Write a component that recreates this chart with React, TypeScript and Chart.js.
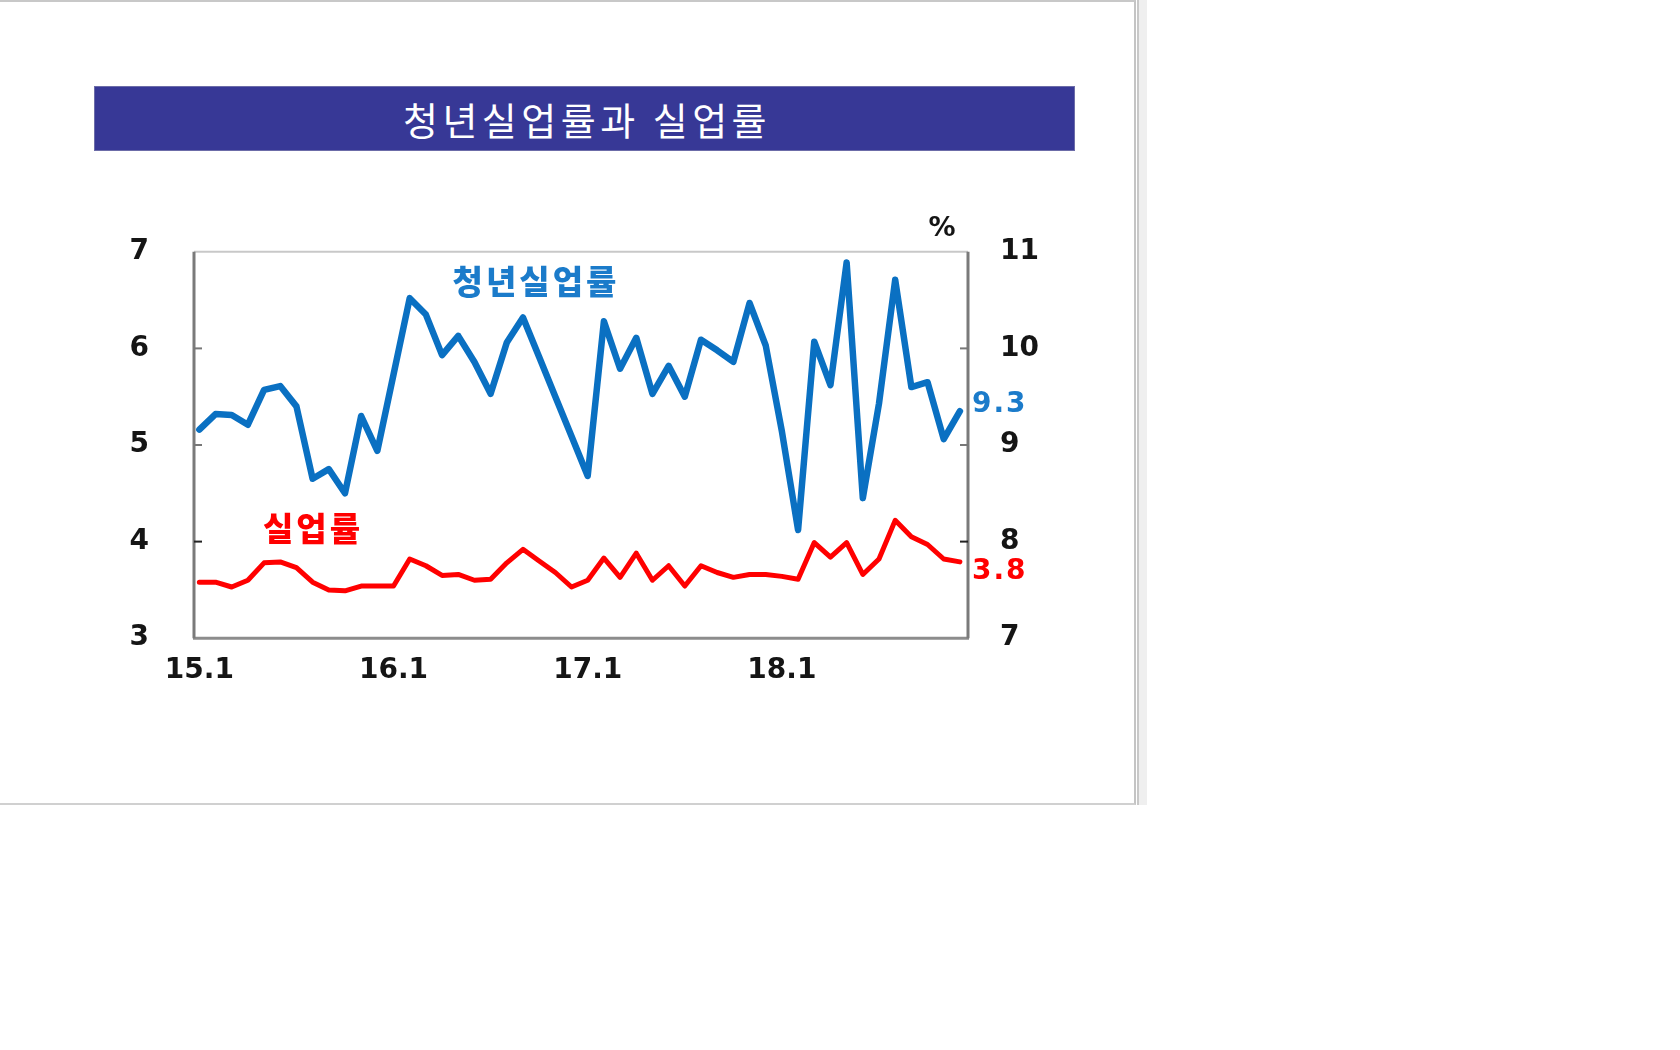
import React, { useEffect, useRef } from 'react';
import { Chart, registerables } from 'chart.js';

Chart.register(...registerables);

const titleText = '청년실업률과 실업률';
const seriesNames = ['청년실업률', '실업률'];
const unitLabel = '%';
const endLabels = ['9.3', '3.8'];

const xTickIndex = [0, 12, 24, 36];
const xTickLabels = ['15.1', '16.1', '17.1', '18.1'];
const leftTicks = [3, 4, 5, 6, 7];
const rightTicks = [7, 8, 9, 10, 11];

// youth unemployment (right axis, %), 2015.1 - 2018.12
const youthRate = [
  9.16, 9.32, 9.31, 9.21, 9.57, 9.61, 9.40, 8.65, 8.75, 8.50, 9.30, 8.94,
  9.73, 10.52, 10.35, 9.93, 10.13, 9.86, 9.53, 10.06, 10.32, 9.91, 9.50, 9.09,
  8.68, 10.28, 9.79, 10.11, 9.53, 9.82, 9.50, 10.09, 9.98, 9.86, 10.47, 10.03,
  9.14, 8.12, 10.07, 9.62, 10.89, 8.45, 9.43, 10.71, 9.60, 9.65, 9.06, 9.35,
];

// unemployment (left axis, %)
const unempRate = [
  3.58, 3.58, 3.53, 3.60, 3.78, 3.79, 3.73, 3.58, 3.50, 3.49, 3.54, 3.54,
  3.54, 3.82, 3.75, 3.65, 3.66, 3.60, 3.61, 3.78, 3.92, 3.80, 3.68, 3.53,
  3.60, 3.83, 3.63, 3.88, 3.60, 3.75, 3.54, 3.75, 3.68, 3.63, 3.66, 3.66,
  3.64, 3.61, 3.99, 3.84, 3.99, 3.66, 3.82, 4.22, 4.05, 3.97, 3.82, 3.79,
];

const BLUE = '#0a70c2';
const BLUE_TEXT = '#1b7bca';
const RED = '#ff0000';
const AXIS_FONT = { family: '"DejaVu Sans", sans-serif', size: 28, weight: 'bold' as const };

const framePlugin = {
  id: 'frame',
  beforeDatasetsDraw(chart: any) {
    const { ctx, chartArea } = chart;
    const { left, right, top, bottom } = chartArea;
    ctx.save();
    ctx.lineCap = 'butt';
    ctx.strokeStyle = '#c8c8c8';
    ctx.lineWidth = 2;
    ctx.beginPath(); ctx.moveTo(left, top); ctx.lineTo(right, top); ctx.stroke();
    ctx.strokeStyle = '#8c8c8c';
    ctx.lineWidth = 3;
    ctx.beginPath(); ctx.moveTo(left - 1, bottom); ctx.lineTo(right + 1, bottom); ctx.stroke();
    ctx.strokeStyle = '#7a7a7a';
    ctx.beginPath(); ctx.moveTo(left, top); ctx.lineTo(left, bottom); ctx.stroke();
    ctx.beginPath(); ctx.moveTo(right, top); ctx.lineTo(right, bottom); ctx.stroke();
    const yL = chart.scales.yL;
    const yR = chart.scales.yR;
    ctx.lineWidth = 2;
    leftTicks.slice(1, -1).forEach((v) => {
      const y = yL.getPixelForValue(v);
      ctx.strokeStyle = v === 4 ? '#222' : '#777';
      ctx.beginPath(); ctx.moveTo(left, y); ctx.lineTo(left + 8, y); ctx.stroke();
    });
    rightTicks.slice(1, -1).forEach((v) => {
      const y = yR.getPixelForValue(v);
      ctx.strokeStyle = v === 8 ? '#222' : '#777';
      ctx.beginPath(); ctx.moveTo(right, y); ctx.lineTo(right - 8, y); ctx.stroke();
    });
    ctx.restore();
  },
  afterDatasetsDraw(chart: any) {
    const { ctx, chartArea } = chart;
    ctx.save();
    ctx.font = 'bold 28px "DejaVu Sans", sans-serif';
    try { (ctx as any).letterSpacing = '2px'; } catch (e) {}
    ctx.textAlign = 'left';
    ctx.textBaseline = 'middle';
    const offsets = [-6, 10];
    const colors = [BLUE_TEXT, RED];
    chart.data.datasets.forEach((ds: any, di: number) => {
      const meta = chart.getDatasetMeta(di);
      const pt = meta.data[meta.data.length - 1];
      ctx.fillStyle = colors[di];
      ctx.fillText(endLabels[di], chartArea.right + 4, pt.y + offsets[di]);
    });
    ctx.restore();
  },
};

function LineChart() {
  const ref = useRef<HTMLCanvasElement | null>(null);
  useEffect(() => {
    if (!ref.current) return;
    const chart = new Chart(ref.current, {
      type: 'line',
      data: {
        datasets: [
          {
            label: seriesNames[0],
            data: youthRate.map((v, i) => ({ x: i, y: v })),
            yAxisID: 'yR',
            borderColor: BLUE,
            borderWidth: 6.5,
            pointRadius: 0,
            tension: 0,
            borderJoinStyle: 'round',
            borderCapStyle: 'round',
          },
          {
            label: seriesNames[1],
            data: unempRate.map((v, i) => ({ x: i, y: v })),
            yAxisID: 'yL',
            borderColor: RED,
            borderWidth: 5,
            pointRadius: 0,
            tension: 0,
            borderJoinStyle: 'round',
            borderCapStyle: 'round',
          },
        ],
      },
      options: {
        responsive: false,
        maintainAspectRatio: false,
        animation: false,
        layout: { padding: { top: 52, left: 0, right: 0, bottom: 0 } },
        plugins: {
          legend: { display: false },
          tooltip: { enabled: false },
          title: { display: false },
        },
        scales: {
          x: {
            type: 'linear',
            min: -0.33,
            max: 47.5,
            grid: { display: false, drawTicks: false },
            border: { display: false },
            afterBuildTicks: (s: any) => {
              s.ticks = xTickIndex.map((v) => ({ value: v }));
            },
            afterFit: (s: any) => {
              s.height = 57;
            },
            ticks: {
              autoSkip: false,
              maxRotation: 0,
              padding: 16,
              color: '#151515',
              font: AXIS_FONT,
              callback: (v: any) => {
                const k = xTickIndex.indexOf(Number(v));
                return k >= 0 ? xTickLabels[k] : '';
              },
            },
          },
          yL: {
            type: 'linear',
            position: 'left',
            min: leftTicks[0],
            max: leftTicks[leftTicks.length - 1],
            grid: { display: false, drawTicks: false },
            border: { display: false },
            afterBuildTicks: (s: any) => {
              s.ticks = leftTicks.map((v) => ({ value: v }));
            },
            afterFit: (s: any) => {
              s.width = 94;
            },
            ticks: { padding: 45, color: '#151515', font: AXIS_FONT },
          },
          yR: {
            type: 'linear',
            position: 'right',
            min: rightTicks[0],
            max: rightTicks[rightTicks.length - 1],
            grid: { display: false, drawTicks: false },
            border: { display: false },
            afterBuildTicks: (s: any) => {
              s.ticks = rightTicks.map((v) => ({ value: v }));
            },
            afterFit: (s: any) => {
              s.width = 92;
            },
            ticks: { padding: 32, color: '#151515', font: AXIS_FONT },
          },
        },
      },
      plugins: [framePlugin],
    });
    return () => chart.destroy();
  }, []);
  return (
    <canvas
      ref={ref}
      width={960}
      height={510}
      style={{ position: 'absolute', left: 100, top: 190, width: 960, height: 510 }}
    />
  );
}

const centered = (cx: number, cy: number): React.CSSProperties => ({
  position: 'absolute',
  left: cx,
  top: cy,
  transform: 'translate(-50%, -50%)',
  whiteSpace: 'nowrap',
  lineHeight: 1,
});

export default function App() {
  return (
    <div
      style={{
        position: 'fixed',
        left: 0,
        top: 0,
        width: 1680,
        height: 1050,
        background: '#ffffff',
        overflow: 'hidden',
      }}
    >
      <div
        style={{
          position: 'absolute',
          left: 0,
          top: 0,
          width: 1136,
          height: 805,
          borderTop: '2px solid #c8c8c8',
          borderRight: '2px solid #c4c4c4',
          borderBottom: '2px solid #d0d0d0',
          boxSizing: 'border-box',
        }}
      />
      <div
        style={{
          position: 'absolute',
          left: 1137,
          top: 0,
          width: 10,
          height: 805,
          background: '#efefef',
          borderLeft: '2px solid #c8c8c8',
          boxSizing: 'border-box',
        }}
      />
      <div
        style={{
          position: 'absolute',
          left: 94,
          top: 86,
          width: 981,
          height: 65,
          background: '#373896',
          border: '1px solid #6c6ca8',
          boxSizing: 'border-box',
        }}
      />
      <div
        style={{
          ...centered(587, 119),
          color: '#ffffff',
          fontFamily: '"Noto Sans CJK KR", sans-serif',
          fontSize: 38,
          fontWeight: 400,
          letterSpacing: 4.5,
        }}
      >
        {titleText}
      </div>
      <LineChart />
      <div
        style={{
          ...centered(536, 280),
          color: BLUE_TEXT,
          fontFamily: '"Noto Sans CJK KR", sans-serif',
          fontSize: 33,
          fontWeight: 900,
          letterSpacing: 3,
        }}
      >
        {seriesNames[0]}
      </div>
      <div
        style={{
          ...centered(313, 527),
          color: RED,
          fontFamily: '"Noto Sans CJK KR", sans-serif',
          fontSize: 33,
          fontWeight: 900,
          letterSpacing: 3,
        }}
      >
        {seriesNames[1]}
      </div>
      <div
        style={{
          ...centered(942, 226),
          color: '#151515',
          fontFamily: '"DejaVu Sans", sans-serif',
          fontSize: 27,
          fontWeight: 700,
        }}
      >
        {unitLabel}
      </div>
    </div>
  );
}
